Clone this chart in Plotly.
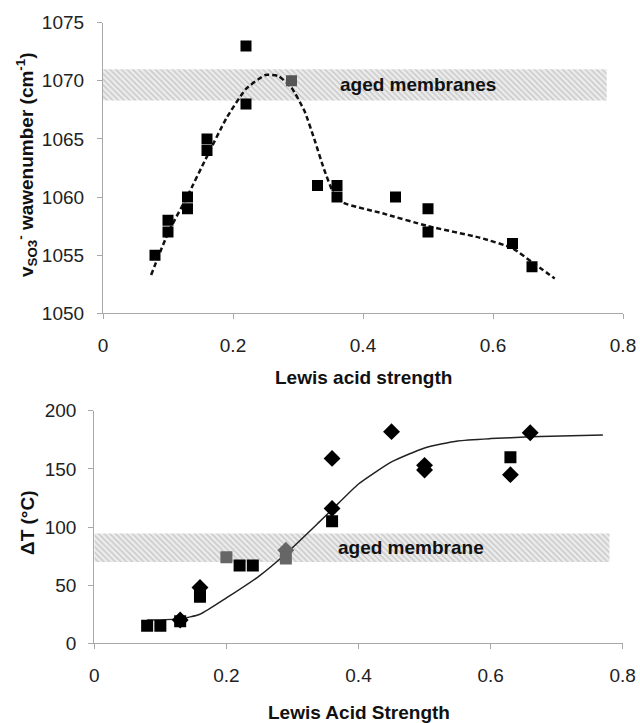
import plotly.graph_objects as go

# ---------------- data: top panel ----------------
top_sq_x = [0.08, 0.10, 0.10, 0.13, 0.13, 0.16, 0.16, 0.22, 0.22, 0.33, 0.36, 0.36, 0.45, 0.50, 0.50, 0.63, 0.66]
top_sq_y = [1055, 1058, 1057, 1060, 1059, 1065, 1064, 1073, 1068, 1061, 1061, 1060, 1060, 1059, 1057, 1056, 1054]
top_gray_x = [0.29]
top_gray_y = [1070]
top_fit_x = [0.074, 0.10, 0.13, 0.16, 0.19, 0.22, 0.25, 0.27, 0.29, 0.31, 0.325, 0.34, 0.355, 0.37,
             0.43, 0.50, 0.58, 0.63, 0.66, 0.695]
top_fit_y = [1053.3, 1056.9, 1060.1, 1063.5, 1066.8, 1069.3, 1070.5, 1070.4, 1069.4, 1067.4, 1065.0,
             1062.4, 1060.3, 1059.5, 1058.6, 1057.5, 1056.5, 1055.6, 1054.4, 1053.0]
top_band_x = [0.0, 0.775]
top_band_y = [1068.3, 1071.0]
top_band_label = "aged membranes"

# ---------------- data: bottom panel ----------------
bot_sq_x = [0.08, 0.10, 0.13, 0.16, 0.16, 0.22, 0.24, 0.36, 0.63]
bot_sq_y = [15, 15, 19, 40, 44, 67, 67, 105, 160]
bot_gray_sq_x = [0.20, 0.29]
bot_gray_sq_y = [74, 73]
bot_dia_x = [0.13, 0.16, 0.36, 0.36, 0.45, 0.50, 0.50, 0.63, 0.66]
bot_dia_y = [20, 48, 116, 159, 182, 153, 149, 145, 181]
bot_gray_dia_x = [0.29]
bot_gray_dia_y = [80]
bot_fit_x = [0.08, 0.13, 0.16, 0.20, 0.25, 0.29, 0.34, 0.36, 0.40, 0.45, 0.50, 0.55, 0.60, 0.66, 0.77]
bot_fit_y = [20, 21, 25, 39, 58, 77, 104, 115, 137, 156, 168, 174, 176, 177.5, 179]
bot_band_x = [0.0, 0.78]
bot_band_y = [70, 94.5]
bot_band_label = "aged membrane"

x_ticks = [0, 0.2, 0.4, 0.6, 0.8]
x_ticklabels = ["0", "0.2", "0.4", "0.6", "0.8"]

FONT = "Liberation Sans, Arial, sans-serif"
AX = "#a8a8a8"

fig = go.Figure()


def band(xr, yr, xa, ya):
    fig.add_trace(go.Scatter(
        x=[xr[0], xr[1], xr[1], xr[0], xr[0]],
        y=[yr[0], yr[0], yr[1], yr[1], yr[0]],
        mode="lines", line=dict(width=0), fill="toself",
        fillcolor="#ececec",
        fillpattern=dict(shape="\\", fgcolor="#a0a0a0", bgcolor="#ececec", size=4, solidity=0.35),
        xaxis=xa, yaxis=ya, hoverinfo="skip", showlegend=False))


# top panel
band(top_band_x, top_band_y, "x", "y")
fig.add_trace(go.Scatter(x=top_fit_x, y=top_fit_y, mode="lines",
                         line=dict(color="#111", width=2.5, dash="5px,3px", shape="spline", smoothing=0.5),
                         xaxis="x", yaxis="y", showlegend=False))
fig.add_trace(go.Scatter(x=top_sq_x, y=top_sq_y, mode="markers",
                         marker=dict(symbol="square", size=11, color="#000"),
                         xaxis="x", yaxis="y", showlegend=False))
fig.add_trace(go.Scatter(x=top_gray_x, y=top_gray_y, mode="markers",
                         marker=dict(symbol="square", size=11, color="#555"),
                         xaxis="x", yaxis="y", showlegend=False))

# bottom panel
band(bot_band_x, bot_band_y, "x2", "y2")
fig.add_trace(go.Scatter(x=bot_fit_x, y=bot_fit_y, mode="lines",
                         line=dict(color="#222", width=1.5, shape="spline", smoothing=0.5),
                         xaxis="x2", yaxis="y2", showlegend=False))
fig.add_trace(go.Scatter(x=bot_dia_x, y=bot_dia_y, mode="markers",
                         marker=dict(symbol="diamond", size=13, color="#000"),
                         xaxis="x2", yaxis="y2", showlegend=False))
fig.add_trace(go.Scatter(x=bot_sq_x, y=bot_sq_y, mode="markers",
                         marker=dict(symbol="square", size=12, color="#000"),
                         xaxis="x2", yaxis="y2", showlegend=False))
fig.add_trace(go.Scatter(x=bot_gray_dia_x, y=bot_gray_dia_y, mode="markers",
                         marker=dict(symbol="diamond", size=13, color="#666"),
                         xaxis="x2", yaxis="y2", showlegend=False))
fig.add_trace(go.Scatter(x=bot_gray_sq_x, y=bot_gray_sq_y, mode="markers",
                         marker=dict(symbol="square", size=12, color="#666"),
                         xaxis="x2", yaxis="y2", showlegend=False))

W, H = 640, 723
axis_common = dict(showgrid=False, zeroline=False, showline=True, linecolor=AX, linewidth=1.2,
                   ticks="outside", tickcolor=AX, ticklen=5, tickwidth=1.2,
                   tickfont=dict(family=FONT, size=19, color="#222"), automargin=False)

fig.update_layout(
    width=W, height=H,
    margin=dict(l=0, r=0, t=0, b=0),
    paper_bgcolor="white", plot_bgcolor="white",
    showlegend=False,
    xaxis=dict(domain=[103 / W, 623 / W], range=[0, 0.8], tickvals=x_ticks, ticktext=x_ticklabels,
               anchor="y", ticklabelstandoff=10, **axis_common),
    yaxis=dict(domain=[1 - 313.3 / H, 1 - 22.7 / H], range=[1050, 1075], dtick=5, anchor="x",
               ticklabelstandoff=9, **axis_common),
    xaxis2=dict(domain=[94.3 / W, 622.7 / W], range=[0, 0.8], tickvals=x_ticks, ticktext=x_ticklabels,
                anchor="y2", ticklabelstandoff=10, **axis_common),
    yaxis2=dict(domain=[1 - 643.3 / H, 1 - 410.7 / H], range=[0, 200], dtick=50, anchor="x2",
                ticklabelstandoff=8, **axis_common),
)

title_font = dict(family=FONT, size=19, color="#111")
C = dict(xanchor="center", yanchor="middle", showarrow=False)
anns = [
    dict(text="<b>" + top_band_label + "</b>", x=0.485, y=sum(top_band_y) / 2, xref="x", yref="y",
         font=dict(family=FONT, size=19, color="#111"), **C),
    dict(text="<b>" + bot_band_label + "</b>", x=0.48, y=sum(bot_band_y) / 2, xref="x2", yref="y2",
         font=dict(family=FONT, size=19, color="#111"), **C),
    dict(text="<b>Lewis acid strength</b>", x=(103 + 623) / 2 / W, y=1 - 377 / H, xref="paper",
         yref="paper", font=title_font, **C),
    dict(text="<b>Lewis Acid Strength</b>", x=(94 + 623) / 2 / W, y=1 - 712 / H, xref="paper",
         yref="paper", font=title_font, **C),
    dict(text="<b>v<sub>SO</sub><sub>3</sub><sup>-</sup> wawenumber (cm<sup>-1</sup>)</b>",
         x=27 / W, y=1 - 165 / H, xref="paper", yref="paper", textangle=-90,
         font=title_font, **C),
    dict(text="<b>ΔT (°C)</b>", x=27 / W, y=1 - 523 / H, xref="paper", yref="paper",
         textangle=-90, font=title_font, **C),
]
fig.update_layout(annotations=anns)

fig.write_html("out.html")
